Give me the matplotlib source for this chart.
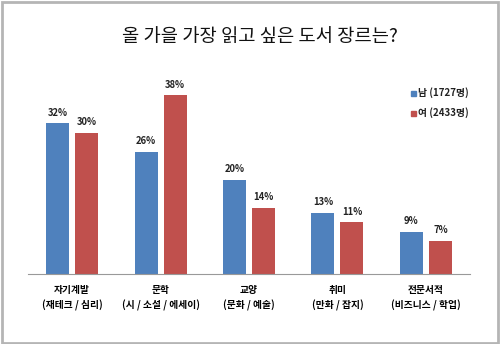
import matplotlib
matplotlib.use("Agg")
import matplotlib.pyplot as plt
from matplotlib.patches import Rectangle
import numpy as np

plt.rcParams['font.family'] = ['Noto Sans CJK KR', 'DejaVu Sans']

categories = ["자기계발\n(재테크 / 심리)", "문학\n(시 / 소설 / 에세이)", "교양\n(문화 / 예술)",
              "취미\n(만화 / 잡지)", "전문서적\n(비즈니스 / 학업)"]
male = [32, 26, 20, 13, 9]
female = [30, 38, 14, 11, 7]
series_names = ["남 (1727명)", "여 (2433명)"]
title = "올 가을 가장 읽고 싶은 도서 장르는?"

blue = "#4F81BD"
red = "#C0504D"

fig = plt.figure(figsize=(5.0, 3.44), dpi=100)
ax = fig.add_axes([0.056, 0.2035, 0.884, 0.547])

x = np.arange(len(categories))
w = 0.26
off = 0.165
b1 = ax.bar(x - off, male, w, color=blue)
b2 = ax.bar(x + off, female, w, color=red)
for bars, vals in ((b1, male), (b2, female)):
    for r, v in zip(bars, vals):
        ax.text(r.get_x() + r.get_width() / 2, v + 1.2, f"{v}%", ha="center", va="bottom",
                fontsize=6.8, fontweight="bold", color="#222222")

ax.set_xlim(-0.5, len(categories) - 0.5)
ax.set_ylim(0, 40)
ax.set_yticks([])
ax.set_xticks(x)
ax.set_xticklabels(categories, fontsize=7, fontweight="bold", linespacing=1.5)
ax.tick_params(axis="x", length=0, pad=8)
for s in ("top", "right", "left"):
    ax.spines[s].set_visible(False)
ax.spines["bottom"].set_color("#999999")

fig.text(0.52, 0.893, title, ha="center", va="center", fontsize=13.5, color="#111111")

# legend
for i, (name, c) in enumerate(zip(series_names, (blue, red))):
    y = 0.73 - i * 0.058
    fig.patches.append(Rectangle((0.822, y - 0.008), 0.009, 0.013, transform=fig.transFigure,
                                 color=c, figure=fig))
    fig.text(0.836, y, name, ha="left", va="center", fontsize=7, fontweight="bold",
             color="#222222")

# border
fig.patches.append(Rectangle((0.003, 0.004), 0.992, 0.99, transform=fig.transFigure,
                             fill=False, edgecolor="#b5b5b5", linewidth=2, figure=fig))

fig.savefig("out.png", dpi=100)
